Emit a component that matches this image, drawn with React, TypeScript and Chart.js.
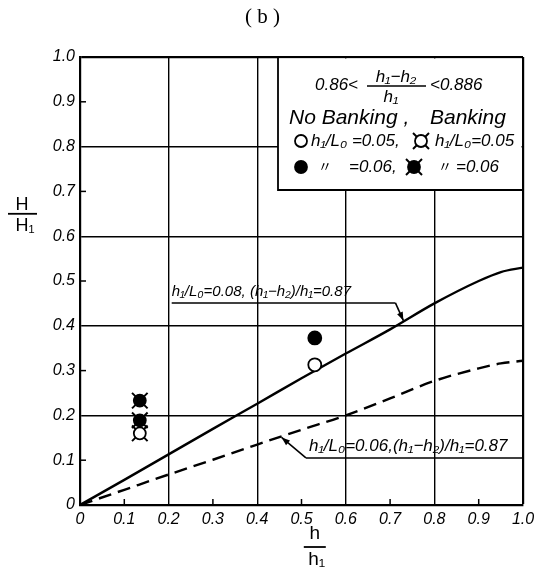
import React, { useEffect, useRef } from 'react';
import { Chart, registerables } from 'chart.js';

Chart.register(...registerables);

// ---- axis ticks ----
const tickValues = [0, 0.1, 0.2, 0.3, 0.4, 0.5, 0.6, 0.7, 0.8, 0.9, 1.0];
const xTickLabels = ['0', '0.1', '0.2', '0.3', '0.4', '0.5', '0.6', '0.7', '0.8', '0.9', '1.0'];
const yTickLabels = ['0', '0.1', '0.2', '0.3', '0.4', '0.5', '0.6', '0.7', '0.8', '0.9', '1.0'];

// ---- curves (h/h1 -> H/H1) ----
const curveX = [0, 0.1, 0.2, 0.3, 0.4, 0.5, 0.6, 0.7, 0.8, 0.9, 0.95, 1.0];
const curve008 = [0, 0.056, 0.113, 0.17, 0.226, 0.283, 0.338, 0.392, 0.45, 0.5, 0.52, 0.53];
const curve006 = [0, 0.034, 0.068, 0.101, 0.135, 0.168, 0.2, 0.238, 0.277, 0.305, 0.316, 0.322];

// ---- experimental points ----
const noBanking005X = [0.53];
const noBanking005Y = [0.313];
const noBanking006X = [0.53];
const noBanking006Y = [0.373];
const banking005X = [0.135];
const banking005Y = [0.16];
const banking006X = [0.135, 0.135];
const banking006Y = [0.189, 0.233];

// ---- texts ----
const titleText = '( b )';
const label008 = 'h\u2081/L\u2080=0.08, (h\u2081\u2212h\u2082)/h\u2081=0.87';
const label006 = 'h\u2081/L\u2080=0.06,(h\u2081\u2212h\u2082)/h\u2081=0.87';

const HAND = '"Liberation Sans", "DejaVu Sans", "Noto Sans CJK JP", sans-serif';
const fnt = (size: number, style = 'italic') => `${style} ${size}px ${HAND}`;

function seg(ctx: CanvasRenderingContext2D, x0: number, y0: number, x1: number, y1: number) {
  ctx.beginPath();
  ctx.moveTo(x0, y0);
  ctx.lineTo(x1, y1);
  ctx.stroke();
}

function arrowHead(ctx: CanvasRenderingContext2D, x0: number, y0: number, x1: number, y1: number, size = 8) {
  const a = Math.atan2(y1 - y0, x1 - x0);
  ctx.beginPath();
  ctx.moveTo(x1, y1);
  ctx.lineTo(x1 - size * Math.cos(a - 0.35), y1 - size * Math.sin(a - 0.35));
  ctx.lineTo(x1 - size * Math.cos(a + 0.35), y1 - size * Math.sin(a + 0.35));
  ctx.closePath();
  ctx.fill();
}

function interp(xs: number[], ys: number[], v: number) {
  for (let i = 1; i < xs.length; i++) {
    if (v <= xs[i]) {
      const t = (v - xs[i - 1]) / (xs[i] - xs[i - 1]);
      return ys[i - 1] + t * (ys[i] - ys[i - 1]);
    }
  }
  return ys[ys.length - 1];
}

function txt(ctx: CanvasRenderingContext2D, s: string, x: number, y: number, font: string, align: CanvasTextAlign = 'left') {
  ctx.font = font;
  ctx.textAlign = align;
  ctx.textBaseline = 'middle';
  ctx.fillStyle = '#000';
  ctx.fillText(s, x, y);
}

function symbol(ctx: CanvasRenderingContext2D, x: number, y: number, filled: boolean, ticks: boolean) {
  ctx.strokeStyle = '#000';
  if (ticks) {
    ctx.lineWidth = 2;
    const d = 8;
    seg(ctx, x - d, y - d, x + d, y + d);
    seg(ctx, x - d, y + d, x + d, y - d);
  }
  ctx.beginPath();
  ctx.arc(x, y, 6, 0, Math.PI * 2);
  ctx.fillStyle = filled ? '#000' : '#fff';
  ctx.fill();
  ctx.lineWidth = 1.8;
  ctx.stroke();
}

const decor = {
  id: 'decor',
  afterDatasetsDraw(chart: any) {
    const { ctx, chartArea: ca } = chart;
    const xs = chart.scales.x;
    const ys = chart.scales.y;
    ctx.save();
    ctx.strokeStyle = '#000';
    ctx.fillStyle = '#000';

    // inward minor ticks
    ctx.lineWidth = 1.5;
    tickValues.forEach((v, i) => {
      if (i % 2 === 1) {
        const px = xs.getPixelForValue(v);
        seg(ctx, px, ca.bottom, px, ca.bottom - 6);
        const py = ys.getPixelForValue(v);
        seg(ctx, ca.left, py, ca.left + 6, py);
      }
    });

    // legend box
    const L = ca.right - 245;
    const T = ca.top;
    const B = ca.top + 133;
    const R = ca.right;
    ctx.fillStyle = '#fff';
    ctx.fillRect(L, T + 1.5, R - L - 1.5, B - T - 1.5);
    ctx.lineWidth = 1.8;
    ctx.beginPath();
    ctx.moveTo(L, T);
    ctx.lineTo(L, B);
    ctx.lineTo(R, B);
    ctx.stroke();

    // row 1
    txt(ctx, '0.86<', L + 37, T + 28, fnt(17));
    txt(ctx, 'h\u2081\u2212h\u2082', L + 118, T + 20, fnt(17), 'center');
    ctx.lineWidth = 1.5;
    seg(ctx, L + 89, T + 29, L + 148, T + 29);
    txt(ctx, 'h\u2081', L + 113, T + 40, fnt(17), 'center');
    txt(ctx, '<0.886', L + 152, T + 28, fnt(17));
    // row 2
    txt(ctx, 'No Banking ,', L + 11, T + 61, fnt(21));
    txt(ctx, 'Banking', L + 152, T + 61, fnt(21));
    // row 3
    symbol(ctx, L + 23, T + 84, false, false);
    txt(ctx, 'h\u2081/L\u2080 =0.05,', L + 33, T + 84, fnt(17));
    symbol(ctx, L + 143, T + 84, false, true);
    txt(ctx, 'h\u2081/L\u2080=0.05', L + 157, T + 84, fnt(17));
    // row 4
    symbol(ctx, L + 23, T + 110, true, false);
    txt(ctx, '\u3003', L + 47, T + 110, fnt(14, 'normal'), 'center');
    txt(ctx, '=0.06,', L + 71, T + 110, fnt(17));
    symbol(ctx, L + 136, T + 110, true, true);
    txt(ctx, '\u3003', L + 167, T + 110, fnt(14, 'normal'), 'center');
    txt(ctx, '=0.06', L + 178, T + 110, fnt(17));

    // annotation for h1/L0 = 0.08
    ctx.strokeStyle = '#000';
    ctx.fillStyle = '#000';
    ctx.lineWidth = 1.6;
    {
      const tx = xs.getPixelForValue(0.73);
      const ty = ys.getPixelForValue(interp(curveX, curve008, 0.73));
      const uy = ys.getPixelForValue(0.451);
      const ux0 = xs.getPixelForValue(0.207);
      const ux1 = xs.getPixelForValue(0.712);
      seg(ctx, ux0, uy, ux1, uy);
      seg(ctx, ux1, uy, tx, ty - 1);
      arrowHead(ctx, ux1, uy, tx, ty - 1, 9);
      txt(ctx, label008, ux0, ys.getPixelForValue(0.476), fnt(15));
    }
    // annotation for h1/L0 = 0.06
    {
      const tx = xs.getPixelForValue(0.455);
      const ty = ys.getPixelForValue(interp(curveX, curve006, 0.455));
      const uy = ys.getPixelForValue(0.105);
      const ux0 = xs.getPixelForValue(0.51);
      const ux1 = ca.right;
      ctx.lineWidth = 1.6;
      seg(ctx, ux0, uy, ux1, uy);
      seg(ctx, ux0, uy, tx, ty + 1);
      arrowHead(ctx, ux0, uy, tx, ty + 1, 9);
      txt(ctx, label006, xs.getPixelForValue(0.517), ys.getPixelForValue(0.13), fnt(17));
    }

    // axis titles (fractions)
    {
      const cx = xs.getPixelForValue(0.53);
      txt(ctx, 'h', cx, 534, fnt(19, 'normal'), 'center');
      ctx.lineWidth = 1.8;
      seg(ctx, cx - 11, 547, cx + 11, 547);
      txt(ctx, 'h\u2081', cx + 2, 560, fnt(19, 'normal'), 'center');
    }
    {
      const cy = ys.getPixelForValue(0.65);
      txt(ctx, 'H', 22, cy - 9, fnt(18, 'normal'), 'center');
      ctx.lineWidth = 1.8;
      seg(ctx, 8, cy, 37, cy);
      txt(ctx, 'H\u2081', 25, cy + 12, fnt(18, 'normal'), 'center');
    }
    ctx.restore();
  },
};

const pts = (xs: number[], ys: number[]) => xs.map((x, i) => ({ x, y: ys[i] }));

const gridOpts = {
  drawTicks: false,
  color: (c: any) => (c.index % 2 === 0 ? '#000' : 'rgba(0,0,0,0)'),
  lineWidth: (c: any) => (c.index === 10 ? 2.2 : 1.4),
};

export default function App() {
  const ref = useRef<HTMLCanvasElement>(null);
  useEffect(() => {
    const canvas = ref.current!;
    const chart = new Chart(canvas, {
      type: 'line',
      data: {
        datasets: [
          {
            label: 'h1/L0=0.08',
            data: pts(curveX, curve008),
            borderColor: '#000',
            borderWidth: 2.4,
            pointRadius: 0,
            cubicInterpolationMode: 'monotone',
            fill: false,
            order: 3,
          },
          {
            label: 'h1/L0=0.06',
            data: pts(curveX, curve006),
            borderColor: '#000',
            borderWidth: 2.4,
            borderDash: [13, 7],
            pointRadius: 0,
            cubicInterpolationMode: 'monotone',
            fill: false,
            order: 3,
          },
          {
            label: 'No Banking h1/L0=0.05',
            data: pts(noBanking005X, noBanking005Y),
            showLine: false,
            pointStyle: 'circle',
            pointRadius: 6.5,
            pointBackgroundColor: '#fff',
            pointBorderColor: '#000',
            pointBorderWidth: 1.8,
            order: 1,
          },
          {
            label: 'No Banking h1/L0=0.06',
            data: pts(noBanking006X, noBanking006Y),
            showLine: false,
            pointStyle: 'circle',
            pointRadius: 6.5,
            pointBackgroundColor: '#000',
            pointBorderColor: '#000',
            pointBorderWidth: 1.8,
            order: 1,
          },
          {
            label: 'Banking h1/L0=0.05',
            data: pts(banking005X, banking005Y),
            showLine: false,
            pointStyle: 'circle',
            pointRadius: 6,
            pointBackgroundColor: '#fff',
            pointBorderColor: '#000',
            pointBorderWidth: 1.8,
            order: 1,
          },
          {
            label: 'Banking h1/L0=0.05 ticks',
            data: pts(banking005X, banking005Y),
            showLine: false,
            pointStyle: 'crossRot',
            pointRadius: 11,
            pointBorderColor: '#000',
            pointBorderWidth: 2,
            order: 2,
          },
          {
            label: 'Banking h1/L0=0.06',
            data: pts(banking006X, banking006Y),
            showLine: false,
            pointStyle: 'circle',
            pointRadius: 6,
            pointBackgroundColor: '#000',
            pointBorderColor: '#000',
            pointBorderWidth: 1.8,
            order: 1,
          },
          {
            label: 'Banking h1/L0=0.06 ticks',
            data: pts(banking006X, banking006Y),
            showLine: false,
            pointStyle: 'crossRot',
            pointRadius: 11,
            pointBorderColor: '#000',
            pointBorderWidth: 2,
            order: 2,
          },
        ],
      },
      options: {
        responsive: false,
        animation: false,
        devicePixelRatio: 1,
        layout: { padding: { left: 0, right: 11, top: 0, bottom: 0 } },
        plugins: {
          legend: { display: false },
          tooltip: { enabled: false },
          title: {
            display: true,
            text: titleText,
            color: '#000',
            font: { family: '"Liberation Serif", "DejaVu Serif", serif', size: 21, weight: 'normal', lineHeight: 1.2 },
            padding: { top: 5, bottom: 26.8 },
          },
        },
        scales: {
          x: {
            type: 'linear',
            min: 0,
            max: 1,
            afterBuildTicks: (s: any) => {
              s.ticks = tickValues.map((v) => ({ value: v }));
            },
            afterFit: (s: any) => {
              s.height = 66;
              s.paddingLeft = 0;
              s.paddingRight = 0;
            },
            ticks: {
              callback: (_v: any, i: number) => xTickLabels[i],
              font: { family: HAND, size: 16, style: 'italic' },
              color: '#000',
              padding: 5,
              maxRotation: 0,
              autoSkip: false,
            },
            grid: gridOpts,
            border: { display: true, color: '#000', width: 2.2 },
          },
          y: {
            type: 'linear',
            min: 0,
            max: 1,
            afterBuildTicks: (s: any) => {
              s.ticks = tickValues.map((v) => ({ value: v }));
            },
            afterFit: (s: any) => {
              s.width = 80;
              s.paddingTop = 0;
              s.paddingBottom = 0;
            },
            ticks: {
              callback: (_v: any, i: number) => yTickLabels[i],
              font: { family: HAND, size: 16, style: 'italic' },
              color: '#000',
              padding: 5,
              autoSkip: false,
            },
            grid: gridOpts,
            border: { display: true, color: '#000', width: 2.2 },
          },
        },
      },
      plugins: [decor],
    } as any);
    return () => chart.destroy();
  }, []);
  return (
    <div style={{ position: 'absolute', left: 0, top: 0, width: 536, height: 571, background: '#fff' }}>
      <canvas ref={ref} width={536} height={571} style={{ display: 'block' }} />
    </div>
  );
}
